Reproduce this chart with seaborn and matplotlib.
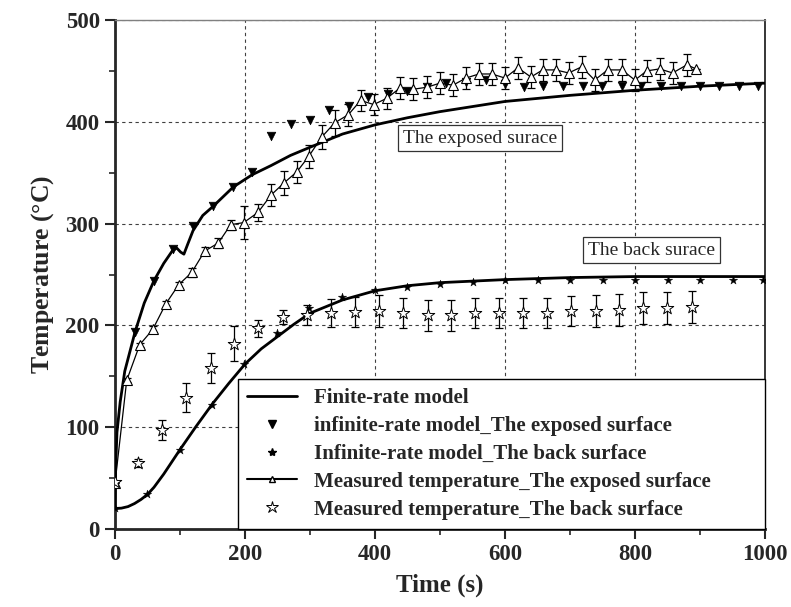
import numpy as np
import matplotlib
matplotlib.use('Agg')
import matplotlib.pyplot as plt
from matplotlib.lines import Line2D
from matplotlib.ticker import MultipleLocator
import seaborn as sns

# finite-rate model curves
finite_exp_t = [0, 1, 3, 8, 15, 31, 45, 60, 75, 89, 95, 101, 106, 112, 120, 135, 151, 182, 211,
                240, 270, 300, 350, 400, 450, 500, 600, 700, 800, 900, 1000]
finite_exp_T = [20, 60, 95, 125, 155, 194, 222, 244, 261, 274, 276, 272, 270, 280, 293, 308, 317, 336, 348,
                357, 367, 375, 388, 397, 404, 410, 420, 426, 431, 435, 438]
finite_back_t = [0, 10, 20, 30, 40, 50, 60, 75, 100, 125, 150, 175, 200, 225, 250, 275, 300, 350, 400,
                 450, 500, 600, 700, 800, 1000]
finite_back_T = [20, 20.5, 22, 25, 29, 34, 41, 54, 78, 101, 123, 143, 162, 177, 189, 201, 212, 225, 234,
                 239, 242, 245, 247, 248, 248]

# infinite-rate model points
inf_exp_t = [31, 60, 89, 120, 151, 182, 211, 240, 271, 300, 330, 360, 390, 420, 449, 480, 510, 540,
             571, 600, 629, 659, 690, 720, 749, 780, 810, 840, 871, 900, 929, 960, 989]
inf_exp_T = [194, 244, 275, 298, 317, 336, 351, 386, 398, 402, 412, 416, 424, 427, 430, 434, 438, 439,
             441, 437, 434, 435, 435, 435, 435, 435, 435, 435, 435, 435, 435, 435, 435]
inf_back_t = [0, 49, 100, 149, 198, 249, 299, 349, 400, 449, 500, 551, 600, 651, 700, 751, 800, 851,
              900, 951, 997]
inf_back_T = [21, 34, 78, 122, 162, 193, 217, 228, 235, 238, 241, 243, 245, 245, 245, 245, 245, 245,
              245, 245, 245]

# measured temperatures
meas_exp_t = [0, 18, 38, 58, 78, 98, 118, 138, 159, 178, 198, 220, 240, 260, 280, 298, 318, 338, 359,
              378, 398, 418, 438, 459, 480, 500, 520, 540, 560, 580, 600, 620, 640, 658, 678, 698, 718,
              738, 758, 780, 800, 818, 838, 858, 880, 894]
meas_exp_T = [45, 146, 181, 196, 221, 240, 252, 273, 281, 299, 301, 311, 328, 340, 351, 366, 385, 399, 407,
              421, 417, 423, 433, 432, 434, 438, 436, 443, 447, 447, 443, 453, 444, 451, 451, 448, 454,
              441, 451, 451, 441, 450, 452, 448, 456, 452]
meas_exp_err = [0, 2, 2, 3, 3, 3, 4, 4, 5, 5, 16, 8, 11, 12, 11, 11, 12, 13, 11,
                10, 10, 10, 11, 11, 11, 11, 11, 11, 11, 11, 11, 11, 11, 11, 11, 11, 11,
                11, 11, 11, 11, 11, 11, 11, 11, 0]
meas_back_t = [0, 36, 73, 109, 147, 183, 220, 258, 295, 332, 369, 406, 443, 481, 517, 554, 591, 628,
               665, 702, 740, 775, 812, 849, 888]
meas_back_T = [46, 65, 97, 129, 158, 182, 197, 208, 210, 212, 213, 214, 212, 210, 210, 212, 212, 212,
               212, 214, 214, 215, 217, 217, 218]
meas_back_err = [0, 4, 10, 14, 15, 17, 8, 7, 10, 14, 15, 16, 15, 15, 15, 15, 15, 15,
                 15, 15, 16, 16, 16, 16, 16]

sns.set_style('ticks')
plt.rcParams['font.family'] = ['Liberation Serif', 'DejaVu Serif']
plt.rcParams['mathtext.fontset'] = 'stix'

fig, ax = plt.subplots(figsize=(7.91, 6.07), dpi=100)
fig.subplots_adjust(left=0.1454, right=0.967, top=0.967, bottom=0.1285)

sns.lineplot(x=finite_exp_t, y=finite_exp_T, ax=ax, color='black', lw=2, estimator=None, sort=False, zorder=3)
sns.lineplot(x=finite_back_t, y=finite_back_T, ax=ax, color='black', lw=2, estimator=None, sort=False, zorder=3)

sns.scatterplot(x=inf_exp_t, y=inf_exp_T, ax=ax, marker='v', color='black', s=38, edgecolor='black', zorder=4)
sns.scatterplot(x=inf_back_t, y=inf_back_T, ax=ax, marker='*', color='black', s=40, edgecolor='black',
                linewidth=0.3, zorder=4)

ax.errorbar(meas_exp_t, meas_exp_T, yerr=meas_exp_err, fmt='none', ecolor='black', elinewidth=0.9,
            capsize=3, capthick=0.9, zorder=4)
sns.lineplot(x=meas_exp_t, y=meas_exp_T, ax=ax, color='black', lw=0.9, marker='^', markersize=6.5,
             markerfacecolor='white', markeredgecolor='black', markeredgewidth=0.8,
             estimator=None, sort=False, zorder=5)

ax.errorbar(meas_back_t, meas_back_T, yerr=meas_back_err, fmt='none', ecolor='black', elinewidth=0.9,
            capsize=3, capthick=0.9, zorder=4)
sns.scatterplot(x=meas_back_t, y=meas_back_T, ax=ax, marker='*', s=90, facecolor='white',
                edgecolor='black', linewidth=0.7, zorder=5)

ax.set_xlim(0, 1000)
ax.set_ylim(0, 500)
ax.xaxis.set_major_locator(MultipleLocator(200))
ax.xaxis.set_minor_locator(MultipleLocator(100))
ax.yaxis.set_major_locator(MultipleLocator(100))
ax.yaxis.set_minor_locator(MultipleLocator(50))
ax.grid(True, which='major', ls=(0, (3, 3)), color='0.25', lw=0.8)
ax.tick_params(which='major', direction='out', length=7, width=1.5, labelsize=16.5, pad=4)
ax.tick_params(which='minor', direction='out', length=4, width=1.2)
for lab in ax.get_xticklabels() + ax.get_yticklabels():
    lab.set_fontweight('bold')

ax.spines['left'].set_linewidth(2)
ax.spines['bottom'].set_linewidth(2)
ax.spines['right'].set_linewidth(1.3)
ax.spines['top'].set_linewidth(1)
ax.spines['top'].set_color('0.5')

ax.set_xlabel('Time (s)', fontsize=18, fontweight='bold', labelpad=6)
ax.set_ylabel('Temperature ($\\mathregular{°}$C)', fontsize=18.5, fontweight='bold', labelpad=7)

box = dict(boxstyle='square,pad=0.25', facecolor='white', edgecolor='0.2', lw=0.9)
ax.text(561, 384, 'The exposed surace', fontsize=14, ha='center', va='center', bbox=box, zorder=6)
ax.text(825, 274, 'The back surace', fontsize=14, ha='center', va='center', bbox=box, zorder=6)

handles = [
    Line2D([], [], color='black', lw=2),
    Line2D([], [], color='black', lw=0, marker='v', markersize=6),
    Line2D([], [], color='black', lw=0, marker='*', markersize=6),
    Line2D([], [], color='black', lw=1.5, marker='^', markersize=5, markerfacecolor='white'),
    Line2D([], [], color='black', lw=0, marker='*', markersize=9, markerfacecolor='white', markeredgewidth=0.7),
]
labels = ['Finite-rate model',
          'infinite-rate model_The exposed surface',
          'Infinite-rate model_The back surface',
          'Measured temperature_The exposed surface',
          'Measured temperature_The back surface']
leg = ax.legend(handles, labels, loc='lower left', bbox_to_anchor=(0.1885, 0, 0.8115, 0.2967),
                mode='expand', borderaxespad=0, fancybox=False, framealpha=1, edgecolor='black',
                handlelength=2.4, handletextpad=0.8, borderpad=0.45, labelspacing=0.38,
                prop={'size': 15, 'weight': 'bold'})
leg.get_frame().set_linewidth(1)
leg.set_zorder(10)

fig.savefig('out.png', dpi=100)
